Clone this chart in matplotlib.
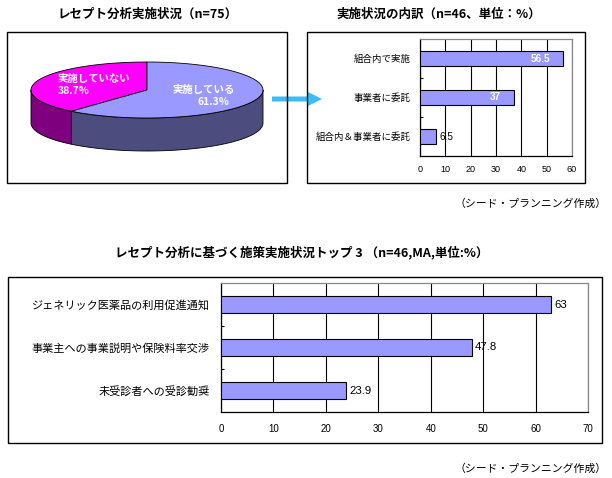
import matplotlib
matplotlib.use("Agg")
import matplotlib.pyplot as plt
import numpy as np
from matplotlib.patches import Polygon, Rectangle, FancyArrow

plt.rcParams['font.family'] = ['Noto Sans CJK JP', 'DejaVu Sans']

# data
pie_labels = ["実施している", "実施していない"]
pie_shares = [61.3, 38.7]

breakdown_labels = ["組合内で実施", "事業者に委託", "組合内＆事業者に委託"]
breakdown_values = [56.5, 37, 6.5]

measure_labels = ["ジェネリック医薬品の利用促進通知",
                  "事業主への事業説明や保険料率交渉",
                  "未受診者への受診勧奨"]
measure_values = [63, 47.8, 23.9]

W, H = 612, 478
BAR = '#9999FF'
NUM_FONT = ['Liberation Sans', 'DejaVu Sans']
SOURCE = "（シード・プランニング作成）"

fig = plt.figure(figsize=(W / 100, H / 100), dpi=100)


def rect(l, t, r, b):
    return [l / W, 1 - b / H, (r - l) / W, (b - t) / H]


# overlay in pixel coordinates for frames, titles, arrow and the pie
bg = fig.add_axes([0, 0, 1, 1])
bg.set_xlim(0, W)
bg.set_ylim(H, 0)
bg.axis('off')

bg.add_patch(FancyArrow(272, 99, 36, 0, width=5, head_width=14, head_length=14,
                        length_includes_head=False, color='#3CBDF2', lw=0, zorder=1))
for l, t, r, b in [(7, 32, 287, 183), (307, 32, 585, 183), (8, 277, 602, 443)]:
    bg.add_patch(Rectangle((l, t), r - l, b - t, fill=False, ec='black', lw=1.0, zorder=2))

title_kw = dict(ha='center', va='center', fontsize=9, fontweight='bold')
bg.text(148, 14, "レセプト分析実施状況（n=75）", **title_kw)
bg.text(439, 14, "実施状況の内訳（n=46、単位：%）", **title_kw)
bg.text(302, 252, "レセプト分析に基づく施策実施状況トップ 3 （n=46,MA,単位:%）", **title_kw)
bg.text(607, 204, SOURCE, ha='right', va='center', fontsize=7.8)
bg.text(607, 469, SOURCE, ha='right', va='center', fontsize=7.8)

# 3D pie
cx, cy, a, b, depth = 147, 90, 116, 28, 33
top_colors = {"実施している": '#9999FF', "実施していない": '#FF00FF'}
side_colors = {"実施している": '#4C4C7E', "実施していない": '#7E007E'}


def arc(t0, t1, dy=0):
    th = np.radians(np.linspace(t0, t1, 80))
    return np.column_stack([cx + a * np.cos(th), cy - b * np.sin(th) + dy])


# slices run counter-clockwise from 12 o'clock, in reverse order
spans = {}
start = 90.0
for lab, share in reversed(list(zip(pie_labels, pie_shares))):
    end = start + share / sum(pie_shares) * 360
    spans[lab] = (start, end)
    start = end

for lab, (t0, t1) in spans.items():
    s0, s1 = max(t0, 180), min(t1, 360)
    if s1 > s0:
        upper = arc(s0, s1)
        lower = arc(s1, s0, depth)
        bg.add_patch(Polygon(np.vstack([upper, lower]), closed=True,
                             fc=side_colors[lab], ec='black', lw=0.6, zorder=3))
for lab, (t0, t1) in spans.items():
    pts = np.vstack([[cx, cy], arc(t0, t1)])
    bg.add_patch(Polygon(pts, closed=True, fc=top_colors[lab], ec='black',
                         lw=0.6, zorder=4))

lab_kw = dict(color='white', fontsize=7.5, fontweight='bold', va='center', zorder=5)
bg.text(58, 79, pie_labels[1], ha='left', **lab_kw)
bg.text(58, 91, f"{pie_shares[1]}%", ha='left', **lab_kw)
bg.text(173, 90, pie_labels[0], ha='left', **lab_kw)
bg.text(229, 102, f"{pie_shares[0]}%", ha='right', **lab_kw)


def bar_panel(box, labels, values, xmax, label_size, tick_size, val_size,
              inside, xpad, ypad):
    ax = fig.add_axes(rect(*box))
    ax.set_facecolor('none')
    y = np.arange(len(labels))
    ax.barh(y, values, height=0.4, color=BAR, edgecolor='black', lw=0.8, zorder=3)
    ax.set_xlim(0, xmax)
    ax.set_ylim(len(labels) - 0.5, -0.5)
    ax.set_xticks(np.arange(0, xmax + 1, 10))
    ax.set_yticks(y)
    ax.set_yticklabels(labels, fontsize=label_size)
    ax.set_yticks(y[:-1] + 0.5, minor=True)
    ax.tick_params(axis='y', which='major', length=0, pad=ypad)
    ax.tick_params(axis='y', which='minor', direction='in', length=2.5, width=0.8)
    ax.tick_params(axis='x', length=0, pad=xpad, labelsize=tick_size)
    for t in ax.get_xticklabels():
        t.set_family(NUM_FONT)
    ax.grid(axis='x', color='black', lw=0.8, zorder=1)
    for s in ['left', 'bottom']:
        ax.spines[s].set_color('black')
        ax.spines[s].set_linewidth(0.9)
    for s in ['top', 'right']:
        ax.spines[s].set_color('#888888')
        ax.spines[s].set_linewidth(0.9)
    for yi, v in zip(y, values):
        if inside is not None and v > inside:
            ax.annotate(f"{v:g}", (v, yi), xytext=(-9, 0), textcoords='offset points',
                        ha='right', va='center', color='white', fontsize=val_size,
                        fontweight='bold', family=NUM_FONT, zorder=4)
        else:
            ax.annotate(f"{v:g}", (v, yi), xytext=(2.5, 0), textcoords='offset points',
                        ha='left', va='center', color='black', fontsize=val_size,
                        family=NUM_FONT, zorder=4)
    return ax


bar_panel((420, 39, 572, 156), breakdown_labels, breakdown_values, 60,
          6.8, 6.5, 7.2, 20, 6.5, 7)
bar_panel((221, 283, 588, 412), measure_labels, measure_values, 70,
          8, 7, 8.2, None, 8.5, 8)

fig.savefig("out.png", dpi=100)
